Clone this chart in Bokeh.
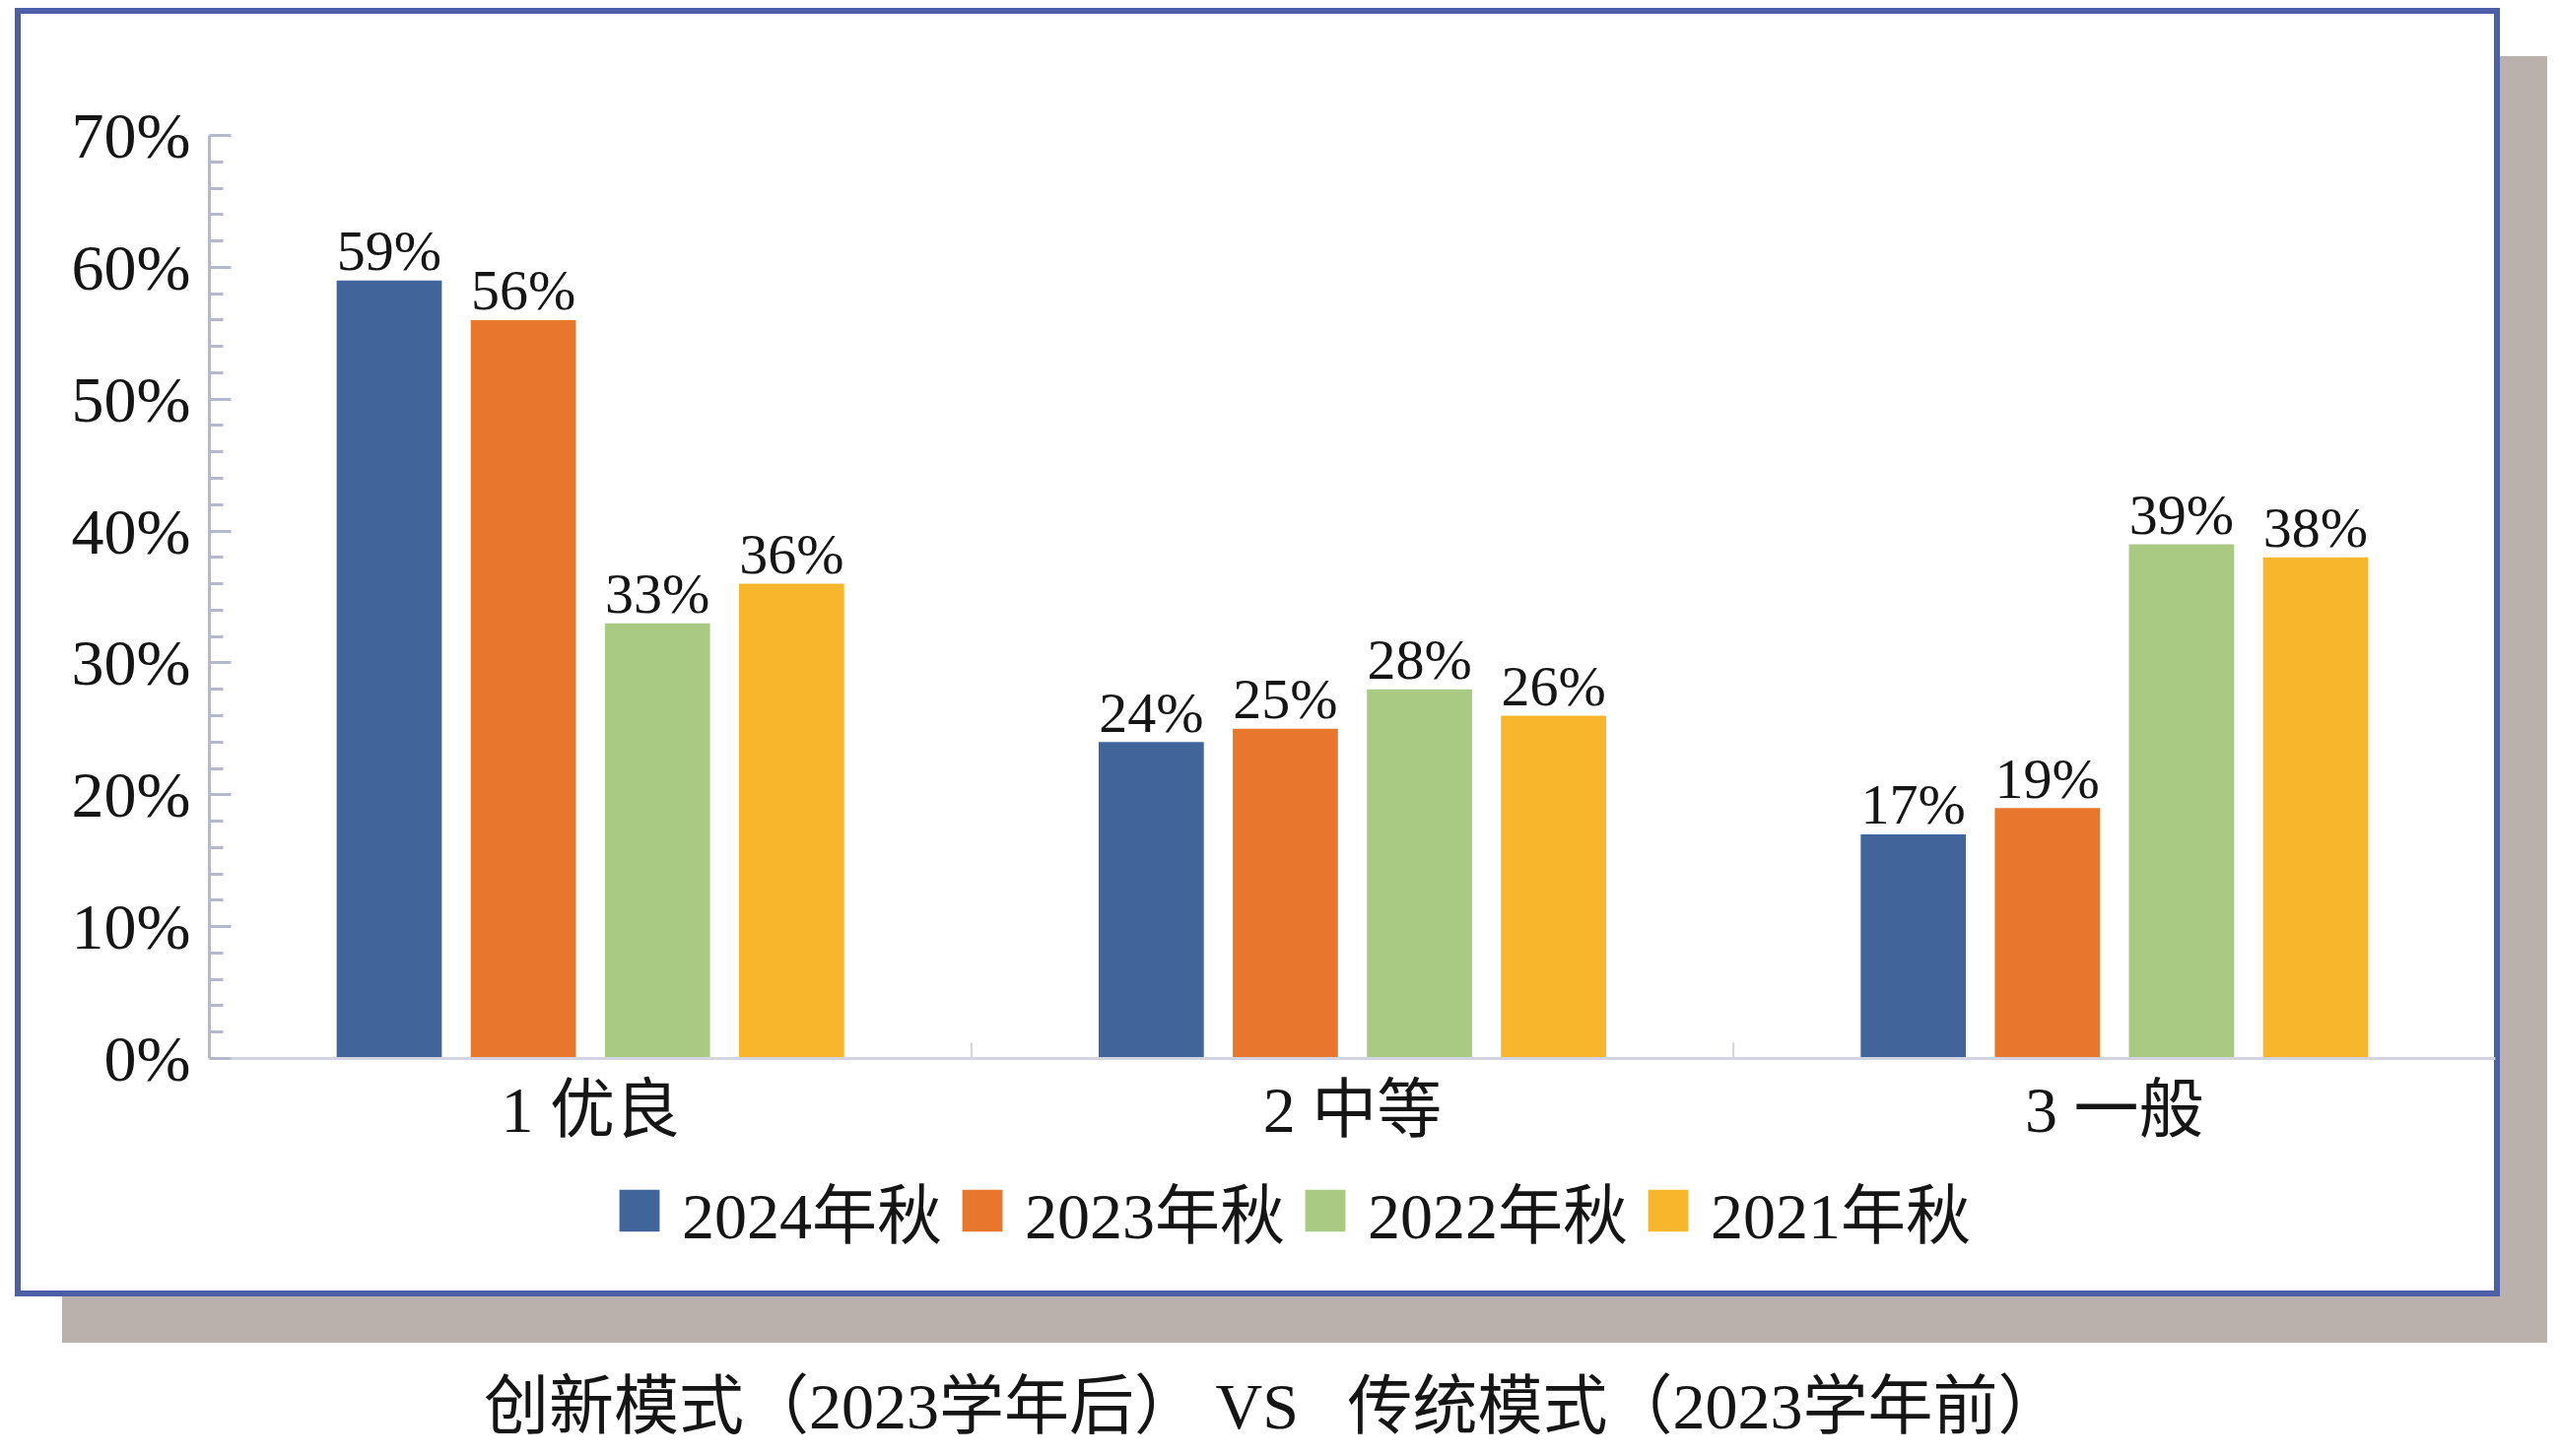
from bokeh.plotting import figure
from bokeh.models import (ColumnDataSource, FactorRange, Range1d, Legend, LegendItem,
                          FixedTicker, PrintfTickFormatter)
from bokeh.transform import dodge
from bokeh.layouts import column
from bokeh.core.properties import value
from bokeh.embed import file_html
from bokeh.resources import INLINE

# ---- data ----
categories = ["1 优良", "2 中等", "3 一般"]
series_names = ["2024年秋", "2023年秋", "2022年秋", "2021年秋"]
s2024 = [59, 24, 17]
s2023 = [56, 25, 19]
s2022 = [33, 28, 39]
s2021 = [36, 26, 38]
y_ticks = [0, 10, 20, 30, 40, 50, 60, 70]
title_text = "创新模式（2023学年后） VS \u00a0\u00a0传统模式（2023学年前）"

# ---- style ----
colors = ["#41649B", "#E8762D", "#A9CA82", "#F8B62C"]
FONT_S = "'Liberation Serif', 'Noto Sans CJK SC'"
FONT = value(FONT_S)
TXT = "#151515"
AXIS_C = "#B5B9CD"
BOX_BG = ("linear-gradient(#ffffff,#ffffff) 21px 14px / 2510px 1296px no-repeat, "
          "linear-gradient(#4C5FA6,#4C5FA6) 15px 8px / 2522px 1308px no-repeat, "
          "linear-gradient(#BBB1AC,#BBB1AC) 63px 57px / 2522px 1306px no-repeat")

series_vals = [s2024, s2023, s2022, s2021]
keys = ["s2024", "s2023", "s2022", "s2021"]
data = {"cat": categories}
for k, vals in zip(keys, series_vals):
    data[k] = vals
    data[k + "_lbl"] = [f"{v}%" for v in vals]
src = ColumnDataSource(data)

# plot area: 70% at y=137, 0% at y=1074, frame bottom at y=1310
y_top = 70
y_low = -y_top * (1310 - 1074) / (1074 - 137)

p = figure(x_range=FactorRange(*categories), y_range=Range1d(y_low, y_top),
           width=2590, height=1364, output_backend="svg", toolbar_location=None,
           min_border_left=212, min_border_right=58, min_border_top=137,
           min_border_bottom=54,
           background_fill_alpha=0, border_fill_alpha=0,
           styles={"background": BOX_BG})
p.outline_line_color = None
p.xgrid.grid_line_color = None
p.ygrid.grid_line_color = None

step = 0.176
bw = 0.138
offsets = [(i - 1.5) * step for i in range(len(keys))]
items = []
for k, name, c, off in zip(keys, series_names, colors, offsets):
    r = p.vbar(x=dodge("cat", off, range=p.x_range), top=k, width=bw, bottom=0,
               fill_color=c, line_color=None, source=src)
    p.text(x=dodge("cat", off, range=p.x_range), y=k, text=k + "_lbl", source=src,
           text_align="center", text_baseline="alphabetic", y_offset=-30,
           text_font=FONT, text_font_size="58px", text_color=TXT)
    items.append(LegendItem(label=name, renderers=[r]))

# category separators
bounds = [float(i) for i in range(1, len(categories))]
p.segment(x0=bounds, y0=[0] * len(bounds), x1=bounds, y1=[1.2] * len(bounds),
          line_color="#D3D4E0", line_width=2)

# y axis
ya = p.yaxis[0]
ya.bounds = (0, 70)
ya.ticker = FixedTicker(ticks=y_ticks, minor_ticks=list(range(0, 71, 2)))
ya.formatter = PrintfTickFormatter(format="%d%%")
ya.axis_line_color = AXIS_C
ya.axis_line_width = 3
ya.major_tick_line_color = AXIS_C
ya.major_tick_line_width = 3
ya.minor_tick_line_color = AXIS_C
ya.minor_tick_line_width = 3
ya.major_tick_in = 22
ya.major_tick_out = 0
ya.minor_tick_in = 14
ya.minor_tick_out = 0
ya.major_label_standoff = 19
ya.major_label_text_font = FONT_S
ya.major_label_text_font_size = "66px"
ya.major_label_text_color = TXT

# x axis (drawn at y = 0 inside the frame)
xa = p.xaxis[0]
xa.fixed_location = 0
xa.axis_line_color = "#D3D4E0"
xa.axis_line_width = 3
xa.major_tick_line_color = None
xa.major_tick_in = 0
xa.major_tick_out = 0
xa.minor_tick_line_color = None
xa.major_label_standoff = 15
xa.major_label_text_font = FONT_S
xa.major_label_text_font_size = "66px"
xa.major_label_text_color = TXT

legend = Legend(items=items, orientation="horizontal", location=(411, 34),
                glyph_width=51, glyph_height=53, label_standoff=18, spacing=15,
                padding=0, margin=0, border_line_color=None,
                background_fill_alpha=0, label_text_font=FONT_S,
                label_text_font_size="66px", label_text_color=TXT,
                label_text_baseline="middle")
p.add_layout(legend)

# bottom title
t = figure(width=2590, height=100, x_range=Range1d(0, 2590), y_range=Range1d(0, 100),
           output_backend="svg", toolbar_location=None, min_border=0,
           x_axis_location=None, y_axis_location=None,
           border_fill_alpha=0, background_fill_alpha=0)
t.grid.visible = False
t.outline_line_color = None
t.text(x=[311], y=[37], text=[title_text], text_align="left",
       text_baseline="middle", text_font=FONT, text_font_size="66px",
       text_color=TXT)

layout = column(p, t, spacing=0)
open("out.html", "w").write(file_html(layout, INLINE))
